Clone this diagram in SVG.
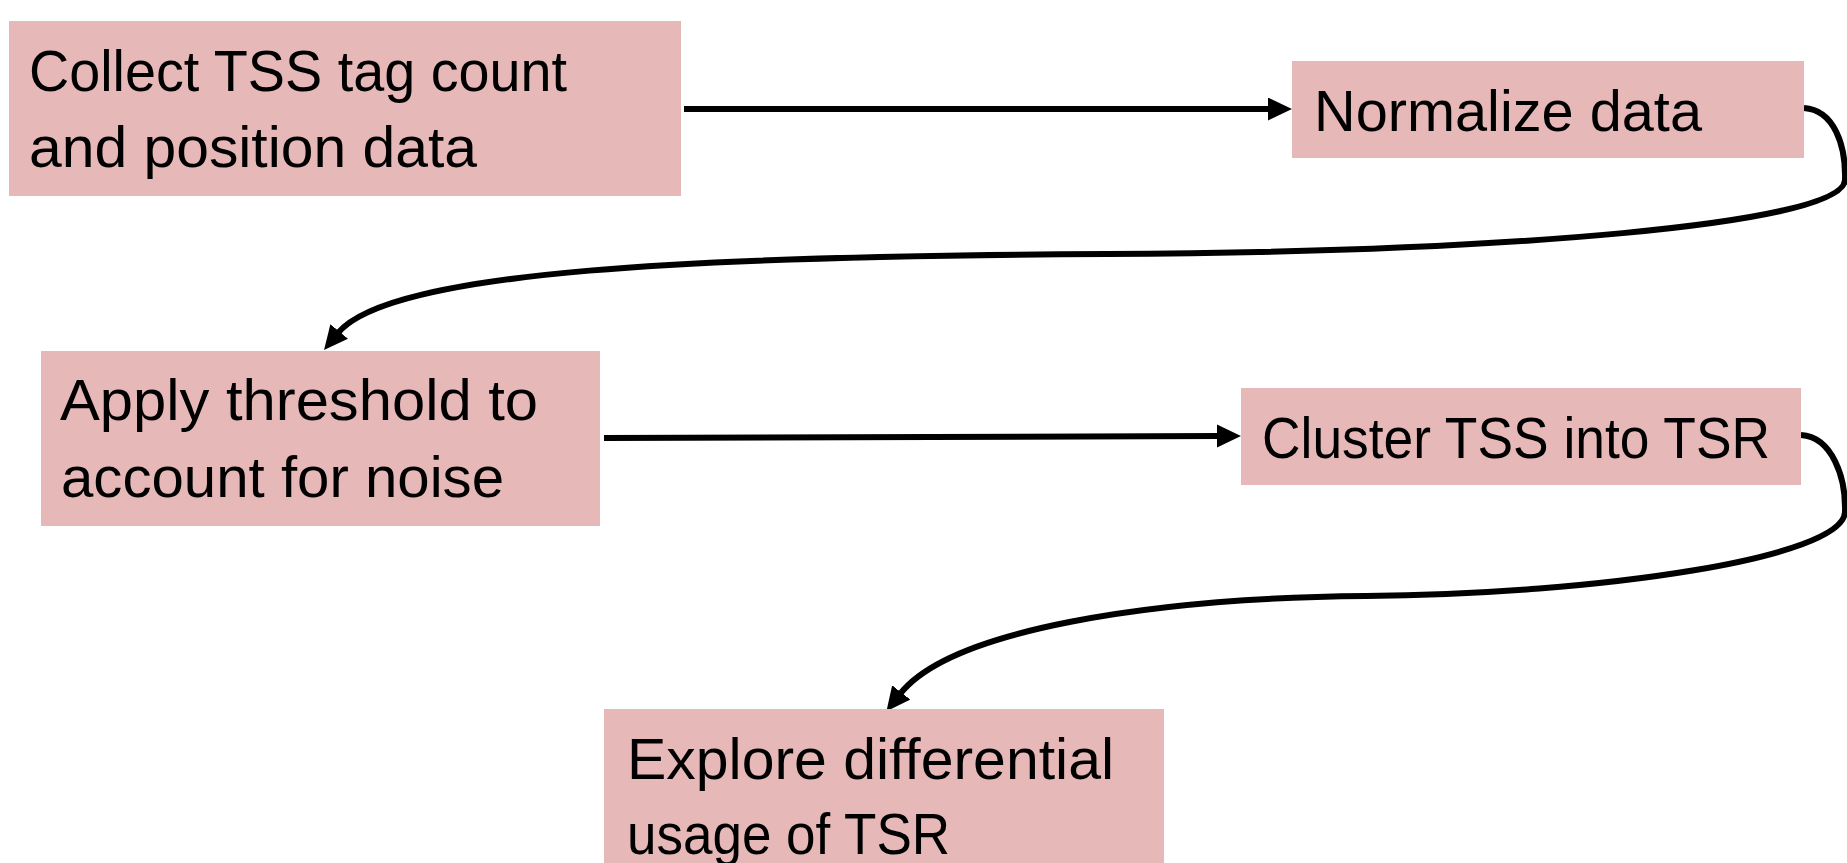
<svg xmlns="http://www.w3.org/2000/svg" width="1847" height="863" viewBox="0 0 1847 863">
<style>
.box{fill:#E6B8B7;}
.t{font-family:"Liberation Sans",Arial,sans-serif;font-size:57px;fill:#000;}
.c{fill:none;stroke:#000;stroke-width:6;}
</style>
<defs>
<marker id="ah" markerUnits="userSpaceOnUse" markerWidth="30" markerHeight="30" refX="2" refY="11.5" orient="auto" viewBox="0 0 30 30">
<path d="M0,0 L24,11.5 L0,23 z" fill="#000"/>
</marker>
</defs>
<rect width="1847" height="863" fill="#fff"/>
<g id="connectors">
<path class="c" d="M684 109 L1270 109" marker-end="url(#ah)"/>
<path class="c" d="M1804 108 C1834 110 1846 145 1845 180 C1843 225 1500 252 1107 254 C700 256 390 270 338 333" marker-end="url(#ah)"/>
<path class="c" d="M604 438 L1219 436" marker-end="url(#ah)"/>
<path class="c" d="M1801 435 C1832 437 1846 477 1845 512 C1843 558 1600 594 1366 596 C1150 598 950 630 900 694" marker-end="url(#ah)"/>
</g>
<g id="n1">
<rect class="box" x="9" y="21" width="672" height="175"/>
<text class="t" x="29" y="91" textLength="538" lengthAdjust="spacingAndGlyphs">Collect TSS tag count</text>
<text class="t" x="29" y="167" textLength="448" lengthAdjust="spacingAndGlyphs">and position data</text>
</g>
<g id="n2">
<rect class="box" x="1292" y="61" width="512" height="97"/>
<text class="t" x="1314" y="131" textLength="388" lengthAdjust="spacingAndGlyphs">Normalize data</text>
</g>
<g id="n3">
<rect class="box" x="41" y="351" width="559" height="175"/>
<text class="t" x="60" y="420" textLength="478" lengthAdjust="spacingAndGlyphs">Apply threshold to</text>
<text class="t" x="61" y="497" textLength="443" lengthAdjust="spacingAndGlyphs">account for noise</text>
</g>
<g id="n4">
<rect class="box" x="1241" y="388" width="560" height="97"/>
<text class="t" x="1262" y="458" textLength="508" lengthAdjust="spacingAndGlyphs">Cluster TSS into TSR</text>
</g>
<g id="n5">
<rect class="box" x="604" y="709" width="560" height="160"/>
<text class="t" x="627" y="779" textLength="487" lengthAdjust="spacingAndGlyphs">Explore differential</text>
<text class="t" x="627" y="854" textLength="323" lengthAdjust="spacingAndGlyphs">usage of TSR</text>
</g>
</svg>
